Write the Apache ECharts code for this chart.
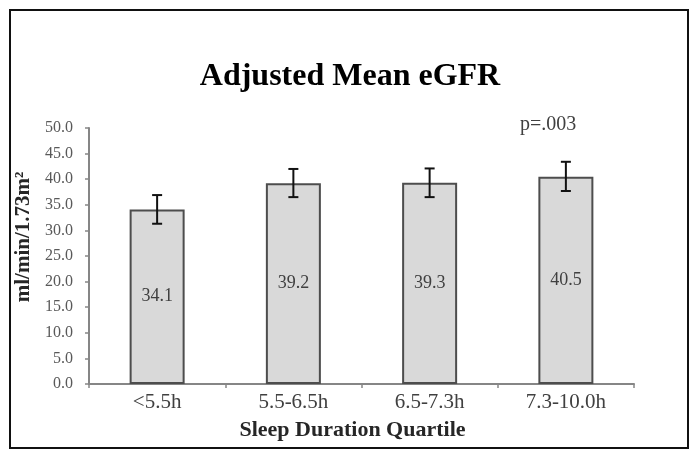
<!DOCTYPE html>
<html>
<head>
<meta charset="utf-8">
<script src="https://cdn.jsdelivr.net/npm/echarts@6/dist/echarts.min.js"></script>
<style>html,body{margin:0;padding:0;background:#fff}#c{width:700px;height:463px}</style>
</head>
<body>
<div id="c"></div>
<script>
var categories = ['<5.5h', '5.5-6.5h', '6.5-7.3h', '7.3-10.0h'];
var meanEGFR = [34.1, 39.2, 39.3, 40.5];
var errUpper = [36.9, 42.0, 42.1, 43.4];
var errLower = [31.3, 36.5, 36.5, 37.7];
var yTicks = [0, 5, 10, 15, 20, 25, 30, 35, 40, 45, 50];
var titleText = 'Adjusted Mean eGFR';
var pText = 'p=.003';

var serif = '"Liberation Serif","DejaVu Serif",serif';
var chart = echarts.init(document.getElementById('c'));
var errData = categories.map(function (c, i) { return [i, errLower[i], errUpper[i]]; });

chart.setOption({
  animation: false,
  backgroundColor: '#fff',
  title: {
    text: titleText, left: 'center', top: 56,
    textStyle: { fontFamily: serif, fontSize: 32, fontWeight: 'bold', color: '#000' }
  },
  graphic: [
    { type: 'rect', shape: { x: 10, y: 10, width: 678, height: 438 }, style: { fill: 'none', stroke: '#111', lineWidth: 2 }, silent: true },
    { type: 'text', left: 520, top: 115, style: { text: pText, font: '20px ' + serif, fill: '#404040' } }
  ],
  grid: { left: 89, right: 66, top: 128, bottom: 79 },
  xAxis: {
    type: 'category', data: categories,
    axisLine: { lineStyle: { color: '#868686', width: 2 } },
    axisTick: { show: true, length: 4, lineStyle: { color: '#868686', width: 1.5 } },
    axisLabel: { fontFamily: serif, fontSize: 21, color: '#404040', margin: 8 },
    name: 'Sleep Duration Quartile', nameLocation: 'middle', nameGap: 35,
    nameTextStyle: { fontFamily: serif, fontSize: 22, fontWeight: 'bold', color: '#262626', padding: [0, 18, 0, 0] }
  },
  yAxis: {
    type: 'value', min: yTicks[0], max: yTicks[yTicks.length - 1], interval: 5,
    splitLine: { show: false },
    axisLine: { show: true, lineStyle: { color: '#868686', width: 2 } },
    axisTick: { show: true, length: 4, lineStyle: { color: '#868686', width: 1.5 } },
    axisLabel: { fontFamily: serif, fontSize: 16, color: '#595959', margin: 16, formatter: function (v) { return v.toFixed(1); } },
    name: 'ml/min/1.73m\u00B2', nameLocation: 'middle', nameGap: 52, nameRotate: 90,
    nameTextStyle: { fontFamily: serif, fontSize: 21, fontWeight: 'bold', color: '#262626', padding: [0, 0, 0, 38] }
  },
  series: [
    {
      type: 'bar', data: meanEGFR, barWidth: 55,
      itemStyle: { color: '#d9d9d9', borderColor: '#4d4d4d', borderWidth: 2 },
      label: { show: true, position: 'inside', fontFamily: serif, fontSize: 18, color: '#404040', formatter: function (p) { return p.value.toFixed(1); } }
    },
    {
      type: 'custom', data: errData, z: 10,
      renderItem: function (params, api) {
        var x = api.value(0);
        var lo = api.coord([x, api.value(1)]);
        var hi = api.coord([x, api.value(2)]);
        var cw = 5;
        var st = { stroke: '#111', lineWidth: 2 };
        return {
          type: 'group', children: [
            { type: 'line', shape: { x1: hi[0], y1: hi[1], x2: lo[0], y2: lo[1] }, style: st },
            { type: 'line', shape: { x1: hi[0] - cw, y1: hi[1], x2: hi[0] + cw, y2: hi[1] }, style: st },
            { type: 'line', shape: { x1: lo[0] - cw, y1: lo[1], x2: lo[0] + cw, y2: lo[1] }, style: st }
          ]
        };
      }
    }
  ]
});
</script>
</body>
</html>
